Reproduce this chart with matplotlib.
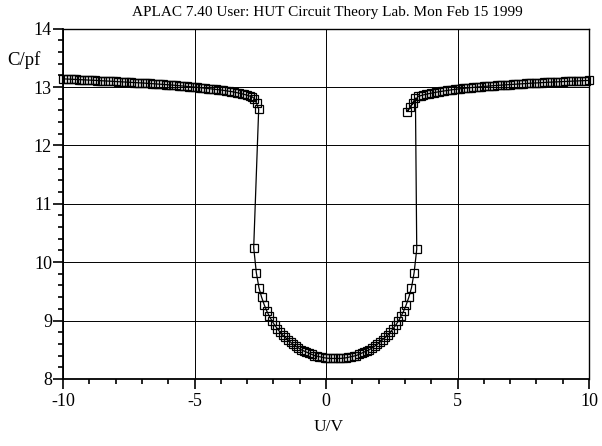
import numpy as np
import matplotlib
matplotlib.use("Agg")
from matplotlib import pyplot as plt
from matplotlib.ticker import MultipleLocator, FuncFormatter

# sweep grids (step 0.1 V)
left_u = np.round(np.arange(-10.0, -2.75, 0.1), 2)      # -10.0 .. -2.8
bowl_u = np.round(np.arange(-2.75, 3.46, 0.1), 2)       # -2.75 .. 3.45
right_u = np.round(np.arange(3.5, 10.01, 0.1), 2)       # 3.5 .. 10.0

# C/pf
left_c = [13.14, 13.138, 13.136, 13.134, 13.132, 13.13, 13.128, 13.126, 13.124, 13.122,
          13.12, 13.117, 13.115, 13.112, 13.11, 13.107, 13.105, 13.102, 13.1, 13.097,
          13.095, 13.092, 13.09, 13.087, 13.085, 13.082, 13.08, 13.077, 13.075, 13.072,
          13.07, 13.067, 13.064, 13.061, 13.058, 13.055, 13.052, 13.049, 13.046, 13.043,
          13.04, 13.036, 13.032, 13.028, 13.024, 13.02, 13.016, 13.012, 13.008, 13.004,
          13.0, 12.995, 12.99, 12.985, 12.98, 12.975, 12.97, 12.965, 12.96, 12.955,
          12.95, 12.943, 12.936, 12.929, 12.922, 12.915, 12.905, 12.895, 12.885, 12.873,
          12.86, 12.845, 12.83]
left_tail_u = [-2.72, -2.64, -2.56]
left_tail_c = [12.8, 12.72, 12.62]

bowl_c = [10.25, 9.82, 9.56, 9.4, 9.27, 9.16, 9.07, 8.99, 8.92, 8.86,
          8.8, 8.75, 8.71, 8.67, 8.63, 8.59, 8.56, 8.53, 8.5, 8.48,
          8.46, 8.44, 8.42, 8.4, 8.39, 8.38, 8.37, 8.36, 8.355, 8.35,
          8.35, 8.35, 8.35, 8.35, 8.355, 8.36, 8.37, 8.38, 8.39, 8.4,
          8.42, 8.44, 8.46, 8.48, 8.5, 8.53, 8.56, 8.59, 8.63, 8.67,
          8.71, 8.75, 8.8, 8.86, 8.92, 8.99, 9.07, 9.16, 9.27, 9.4,
          9.56, 9.82, 10.22]

right_tail_u = [3.08, 3.21, 3.3, 3.4]
right_tail_c = [12.58, 12.66, 12.73, 12.81]
right_c = [12.84, 12.853, 12.865, 12.876, 12.886, 12.895, 12.904, 12.912, 12.92, 12.927,
           12.934, 12.941, 12.948, 12.954, 12.96, 12.966, 12.971, 12.976, 12.98, 12.985,
           12.99, 12.994, 12.998, 13.002, 13.006, 13.01, 13.014, 13.018, 13.022, 13.025,
           13.028, 13.031, 13.034, 13.037, 13.04, 13.043, 13.046, 13.049, 13.052, 13.055,
           13.058, 13.061, 13.063, 13.066, 13.068, 13.071, 13.073, 13.076, 13.078, 13.081,
           13.083, 13.085, 13.088, 13.09, 13.092, 13.094, 13.096, 13.098, 13.1, 13.102,
           13.104, 13.106, 13.108, 13.11, 13.112, 13.114]

u = np.concatenate([left_u, left_tail_u, bowl_u, right_tail_u[::-1], right_u])
c = np.concatenate([left_c, left_tail_c, bowl_c, right_tail_c[::-1], right_c])

plt.rcParams['font.family'] = 'Liberation Serif'

fig = plt.figure(figsize=(6.02, 4.46), dpi=100)
ax = fig.add_axes([0.1047, 0.1505, 0.8737, 0.7852])

ax.plot(u, c, color='black', lw=0.9, marker='s', markersize=5.8,
        markerfacecolor='none', markeredgecolor='black', markeredgewidth=0.9,
        clip_on=False, zorder=3)

ax.set_xlim(-10, 10)
ax.set_ylim(8, 14)
ax.xaxis.set_major_locator(MultipleLocator(5))
ax.xaxis.set_minor_locator(MultipleLocator(1))
ax.yaxis.set_major_locator(MultipleLocator(1))
ax.yaxis.set_minor_locator(MultipleLocator(0.2))
ax.xaxis.set_major_formatter(FuncFormatter(lambda v, p: '%d' % v))
ax.yaxis.set_major_formatter(FuncFormatter(lambda v, p: '%d' % v))

ax.tick_params(axis='both', which='major', direction='out', length=7, width=1.2,
               labelsize=13, pad=1, top=False, right=False)
ax.tick_params(axis='both', which='minor', direction='out', length=3.5, width=1.2,
               top=False, right=False)
ax.tick_params(axis='x', which='major', pad=3)

ax.grid(True, which='major', color='black', lw=0.7)
for s in ['left', 'bottom']:
    ax.spines[s].set_linewidth(1.3)
for s in ['top', 'right']:
    ax.spines[s].set_linewidth(1.0)

fig.text(0.543, 0.973, 'APLAC 7.40 User: HUT Circuit Theory Lab. Mon Feb 15 1999',
         ha='center', va='center', fontsize=11)
fig.text(0.012, 0.866, 'C/pf', ha='left', va='center', fontsize=13.5)
fig.text(0.546, 0.043, 'U/V', ha='center', va='center', fontsize=12.5)

fig.savefig('out.png', dpi=100)
